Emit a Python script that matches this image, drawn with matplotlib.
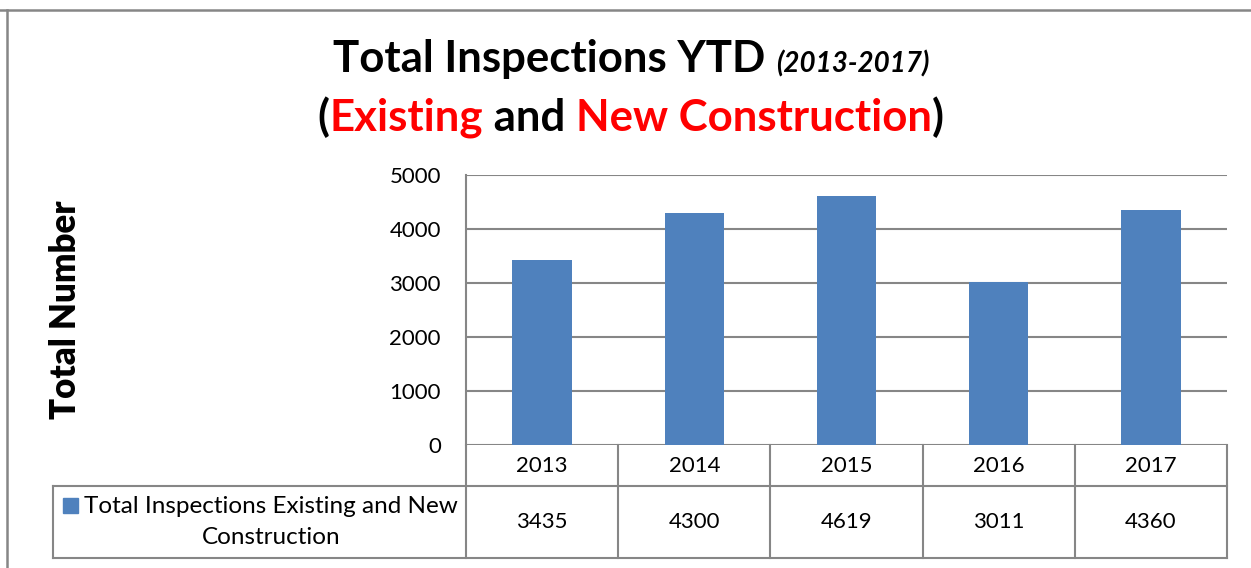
import matplotlib
matplotlib.use('Agg')
import matplotlib.pyplot as plt
from matplotlib.lines import Line2D
from matplotlib.patches import Rectangle
import matplotlib.transforms as mtransforms

# ---- data ----
years = ['2013', '2014', '2015', '2016', '2017']
inspections = [3435, 4300, 4619, 3011, 4360]
series_name = 'Total Inspections Existing and New\nConstruction'
yticks = [0, 1000, 2000, 3000, 4000, 5000]

W, H = 1251, 568
plt.rcParams['font.family'] = ['Lato', 'DejaVu Sans']
fig = plt.figure(figsize=(W / 100, H / 100), dpi=100)

def fx(x):
    return x / W

def fy(y):
    return 1 - y / H

GRID = '#868686'
BLUE = '#4F81BD'
FS = 16

# outer frame
fig.add_artist(Line2D([0, 1], [fy(10), fy(10)], transform=fig.transFigure, color=GRID, lw=1.8))
fig.add_artist(Line2D([fx(7), fx(7)], [fy(10), 0], transform=fig.transFigure, color=GRID, lw=1.8))

ax = fig.add_axes([fx(466), fy(445), fx(1227) - fx(466), fy(175) - fy(445)])
xpos = list(range(len(years)))
ax.bar(xpos, inspections, width=0.39, color=BLUE, zorder=3)
ax.set_xlim(-0.5, len(years) - 0.5)
ax.set_ylim(0, 5000)
ax.set_yticks(yticks)
ax.set_yticklabels([str(v) for v in yticks])
ax.grid(axis='y', color=GRID, lw=1.5, zorder=0)
ax.set_axisbelow(True)
for s in ['top', 'right', 'bottom']:
    ax.spines[s].set_visible(False)
ax.spines['left'].set_color(GRID)
ax.spines['left'].set_linewidth(1.5)
ax.tick_params(axis='y', length=0, pad=18, labelsize=FS)
ax.set_xticks([])

# table
y1 = -41 / 270
y2 = -113 / 270
xl = (53 - 466) / 761
n = len(years)
T = ax.transAxes
def tline(xs, ys):
    ax.add_line(Line2D(xs, ys, transform=T, color=GRID, lw=1.5, clip_on=False))
tline([xl, 1], [y1, y1])
tline([xl, 1], [y2, y2])
tline([xl, xl], [y1, y2])
for k in range(n + 1):
    tline([k / n, k / n], [0, y2])

bt = mtransforms.blended_transform_factory(ax.transData, ax.transAxes)
for i, (yr, v) in enumerate(zip(years, inspections)):
    ax.text(i, (0 + y1) / 2, yr, transform=bt, ha='center', va='center', fontsize=FS, clip_on=False)
    ax.text(i, (y1 + y2) / 2, str(v), transform=bt, ha='center', va='center', fontsize=FS, clip_on=False)

# legend in table
fig.add_artist(Rectangle((fx(63), fy(513)), fx(78) - fx(63), fy(498) - fy(513),
                         transform=fig.transFigure, color=BLUE))
fig.text(fx(271), fy(522), series_name, ha='center', va='center', multialignment='center',
         fontsize=17.5, linespacing=1.55)

# y label
fig.text(fx(65), fy(310), 'Total Number', rotation=90, ha='center', va='center',
         fontsize=25, fontweight='heavy')

# titles
fig.canvas.draw()
r = fig.canvas.get_renderer()

def rich_line(pieces, cx, baseline_y):
    texts = []
    for s, kw in pieces:
        t = fig.text(0, fy(baseline_y), s, va='baseline', ha='left', **kw)
        texts.append(t)
    widths = []
    for t in texts:
        bb = t.get_window_extent(renderer=r)
        widths.append(bb.width)
    total = sum(widths)
    x = cx - total / 2
    for t, w in zip(texts, widths):
        t.set_x(x / W)
        x += w

TS = 31.5
rich_line([
    ('Total Inspections YTD ', dict(fontsize=TS, fontweight='bold', color='black')),
    ('(2013-2017)', dict(fontsize=20, fontweight='bold', style='italic', color='black')),
], 631, 72)

rich_line([
    ('(', dict(fontsize=TS, fontweight='bold', color='black')),
    ('Existing', dict(fontsize=TS, fontweight='bold', color='#FF0000')),
    (' and ', dict(fontsize=TS, fontweight='bold', color='black')),
    ('New Construction', dict(fontsize=TS, fontweight='bold', color='#FF0000')),
    (')', dict(fontsize=TS, fontweight='bold', color='black')),
], 631, 131)

fig.savefig('out.png', dpi=100)
